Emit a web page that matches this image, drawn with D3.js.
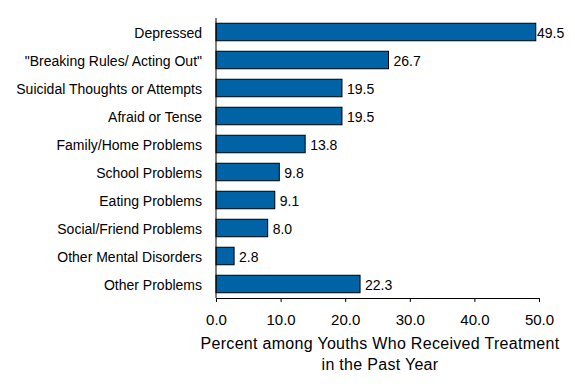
<!DOCTYPE html>
<html>
<head>
<meta charset="utf-8">
<script src="https://cdn.jsdelivr.net/npm/d3@7"></script>
<style>
  body { margin: 0; background: #fff; }
  svg { display: block; font-family: Arial, "Liberation Sans", sans-serif; }
</style>
</head>
<body>
<svg width="575" height="384"></svg>
<script>
const categories = [
  "Depressed",
  "\"Breaking Rules/ Acting Out\"",
  "Suicidal Thoughts or Attempts",
  "Afraid or Tense",
  "Family/Home Problems",
  "School Problems",
  "Eating Problems",
  "Social/Friend Problems",
  "Other Mental Disorders",
  "Other Problems"
];
const values = [49.5, 26.7, 19.5, 19.5, 13.8, 9.8, 9.1, 8.0, 2.8, 22.3];
const tickValues = [0, 10, 20, 30, 40, 50];
const axisTitle = ["Percent among Youths Who Received Treatment", "in the Past Year"];

const svg = d3.select("svg");
const plotLeft = 216, plotRight = 539, plotTop = 18, plotBottom = 298;

const x = d3.scaleLinear().domain([0, 50]).range([plotLeft, plotRight]);
const y = d3.scaleBand().domain(categories).range([plotTop, plotBottom]).paddingInner(0.375).paddingOuter(0.1875);

// bars
svg.selectAll(".bar")
  .data(values)
  .enter()
  .append("rect")
  .attr("class", "bar")
  .attr("x", x(0))
  .attr("y", (d, i) => y(categories[i]))
  .attr("width", d => x(d) - x(0))
  .attr("height", y.bandwidth())
  .attr("fill", "#0063a6")
  .attr("stroke", "#000")
  .attr("stroke-width", 1);

// value labels (the longest one sits tight against its bar, as in the source)
svg.selectAll(".val")
  .data(values)
  .enter()
  .append("text")
  .attr("class", "val")
  .attr("x", d => Math.min(x(d) + 5, 537))
  .attr("y", (d, i) => y(categories[i]) + y.bandwidth() / 2)
  .attr("dy", "0.4em")
  .attr("font-size", 14)
  .text(d => d.toFixed(1));

// category labels
svg.selectAll(".cat")
  .data(categories)
  .enter()
  .append("text")
  .attr("class", "cat")
  .attr("x", plotLeft - 14)
  .attr("y", d => y(d) + y.bandwidth() / 2)
  .attr("dy", "0.42em")
  .attr("text-anchor", "end")
  .attr("font-size", 14)
  .text(d => d);

// y axis line
svg.append("line")
  .attr("x1", plotLeft).attr("x2", plotLeft)
  .attr("y1", plotTop).attr("y2", plotBottom)
  .attr("stroke", "#000");

// x axis
const xAxis = svg.append("g")
  .attr("transform", `translate(0,${plotBottom})`)
  .call(d3.axisBottom(x).tickValues(tickValues).tickSize(4).tickSizeOuter(0).tickFormat(d3.format(".1f")));
xAxis.select(".domain").attr("stroke", "#000");
xAxis.selectAll(".tick line").attr("stroke", "#000");
xAxis.selectAll(".tick text")
  .attr("font-size", 15)
  .attr("font-family", "Arial, 'Liberation Sans', sans-serif")
  .attr("fill", "#000")
  .attr("y", 27)
  .attr("dy", null);

// axis title
svg.append("text")
  .attr("text-anchor", "middle")
  .attr("font-size", 16)
  .attr("letter-spacing", 0.3)
  .selectAll("tspan")
  .data(axisTitle)
  .enter()
  .append("tspan")
  .attr("x", 380)
  .attr("y", (d, i) => 349 + i * 21)
  .text(d => d);
</script>
</body>
</html>
